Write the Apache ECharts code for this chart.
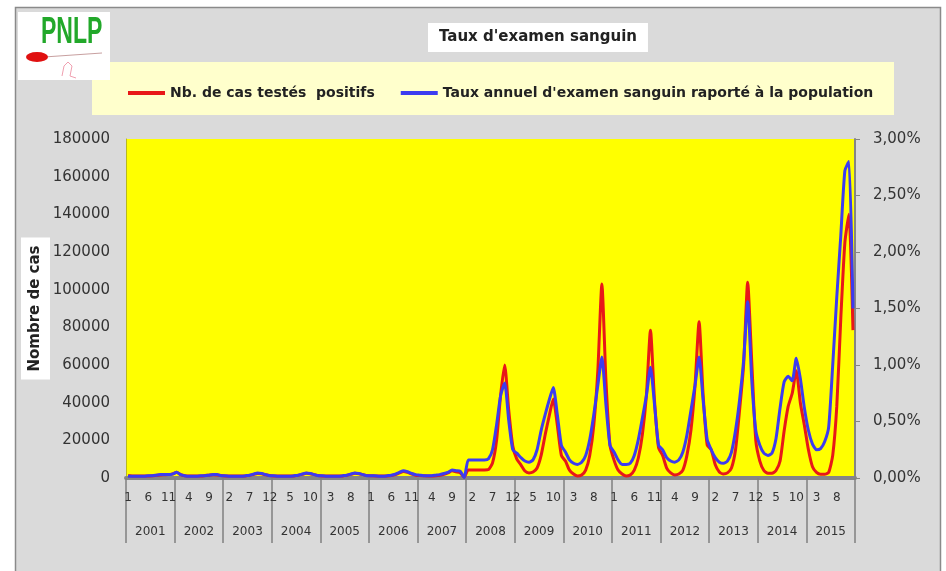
<!DOCTYPE html>
<html>
<head>
<meta charset="utf-8">
<script src="https://cdn.jsdelivr.net/npm/echarts@6/dist/echarts.min.js"></script>
<style>
  html, body { margin: 0; padding: 0; background: #fff; }
  #chart { width: 946px; height: 571px; }
</style>
</head>
<body>
<div id="chart"></div>
<script>
// years on the second level of the x axis
const years = ["2001", "2002", "2003", "2004", "2005", "2006", "2007", "2008",
  "2009", "2010", "2011", "2012", "2013", "2014", "2015"];

// Nb. de cas testés positifs, month by month (left axis)
const cas2001 = [1200, 1100, 1000, 1000, 1000, 1100, 1200, 1400, 1600, 1700, 1800, 2200];
const cas2002 = [3000, 1800, 1200, 1000, 1000, 1000, 1100, 1300, 1500, 1700, 1600, 1300];
const cas2003 = [1100, 1000, 1000, 1000, 1000, 1100, 1400, 1900, 2400, 2200, 1700, 1300];
const cas2004 = [1100, 1000, 1000, 1000, 1000, 1100, 1400, 1900, 2500, 2300, 1800, 1300];
const cas2005 = [1100, 1000, 1000, 1000, 1000, 1100, 1400, 1900, 2500, 2300, 1800, 1300];
const cas2006 = [1200, 1100, 1000, 1000, 1100, 1300, 1800, 2700, 3500, 3000, 2200, 1500];
const cas2007 = [1300, 1200, 1100, 1100, 1200, 1500, 2000, 2700, 3800, 3300, 2800, 500];
const cas2008 = [4300, 4300, 4200, 4300, 4300, 4500, 8000, 20000, 44000, 60000, 36000, 17000];
const cas2009 = [10000, 7000, 3700, 2700, 3200, 5300, 12000, 23000, 33000, 42000, 28000, 12000];
const cas2010 = [9000, 4200, 2100, 1000, 1600, 4200, 12000, 28000, 57000, 103000, 52000, 17500];
const cas2011 = [9500, 4200, 2100, 1000, 1600, 4200, 10600, 23000, 44000, 78500, 41000, 16000];
const cas2012 = [12000, 5300, 2700, 1600, 2100, 4200, 12000, 25500, 49000, 83000, 44000, 17500];
const cas2013 = [15000, 7000, 3200, 2100, 2700, 5300, 15000, 36000, 60000, 104000, 62000, 20000];
const cas2014 = [9000, 4000, 2500, 2500, 4000, 9000, 25000, 38000, 45000, 57000, 40000, 28000];
const cas2015 = [15000, 6000, 3000, 2000, 2000, 3000, 12000, 38000, 85000, 125000, 140000, 78500];

// Taux annuel d'examen sanguin (%), month by month (right axis)
const taux2001 = [0.015, 0.015, 0.015, 0.015, 0.015, 0.02, 0.02, 0.025, 0.03, 0.03, 0.03, 0.035];
const taux2002 = [0.05, 0.03, 0.02, 0.015, 0.015, 0.015, 0.02, 0.02, 0.025, 0.03, 0.03, 0.02];
const taux2003 = [0.02, 0.015, 0.015, 0.015, 0.015, 0.02, 0.025, 0.035, 0.045, 0.04, 0.03, 0.02];
const taux2004 = [0.02, 0.015, 0.015, 0.015, 0.015, 0.02, 0.025, 0.035, 0.045, 0.04, 0.03, 0.02];
const taux2005 = [0.02, 0.015, 0.015, 0.015, 0.015, 0.02, 0.025, 0.035, 0.045, 0.04, 0.03, 0.02];
const taux2006 = [0.02, 0.02, 0.015, 0.015, 0.02, 0.025, 0.035, 0.05, 0.065, 0.055, 0.04, 0.03];
const taux2007 = [0.025, 0.02, 0.02, 0.02, 0.025, 0.03, 0.04, 0.05, 0.07, 0.065, 0.06, 0.005];
const taux2008 = [0.16, 0.16, 0.16, 0.16, 0.16, 0.17, 0.25, 0.47, 0.73, 0.84, 0.51, 0.25];
const taux2009 = [0.22, 0.18, 0.15, 0.14, 0.16, 0.25, 0.42, 0.56, 0.69, 0.80, 0.56, 0.29];
const taux2010 = [0.23, 0.16, 0.13, 0.12, 0.14, 0.20, 0.34, 0.56, 0.82, 1.07, 0.65, 0.29];
const taux2011 = [0.23, 0.16, 0.12, 0.12, 0.13, 0.20, 0.34, 0.53, 0.73, 0.98, 0.65, 0.29];
const taux2012 = [0.25, 0.18, 0.15, 0.14, 0.16, 0.23, 0.38, 0.60, 0.82, 1.07, 0.69, 0.34];
const taux2013 = [0.25, 0.18, 0.14, 0.13, 0.15, 0.23, 0.42, 0.69, 1.04, 1.56, 0.87, 0.42];
const taux2014 = [0.29, 0.22, 0.20, 0.22, 0.35, 0.62, 0.85, 0.90, 0.86, 1.06, 0.88, 0.62];
const taux2015 = [0.42, 0.30, 0.25, 0.26, 0.32, 0.45, 1.00, 1.60, 2.15, 2.72, 2.80, 1.50];

const cases = [].concat(cas2001, cas2002, cas2003, cas2004, cas2005, cas2006, cas2007,
  cas2008, cas2009, cas2010, cas2011, cas2012, cas2013, cas2014, cas2015);
const taux = [].concat(taux2001, taux2002, taux2003, taux2004, taux2005, taux2006, taux2007,
  taux2008, taux2009, taux2010, taux2011, taux2012, taux2013, taux2014, taux2015);

// month numbers 1..12 repeated for every year
const months = [];
years.forEach(() => {
  for (let m = 1; m <= 12; m++) months.push(String(m));
});

const ff = "DejaVu Sans";
const chart = echarts.init(document.getElementById("chart"));

chart.setOption({
  animation: false,
  backgroundColor: "#dadada",
  textStyle: { fontFamily: ff },
  title: {
    text: "Taux d'examen sanguin",
    left: 428,
    top: 23,
    padding: [7, 11],
    backgroundColor: "#ffffff",
    textStyle: { fontFamily: ff, fontSize: 15, fontWeight: "bold", color: "#222" },
  },
  legend: {
    left: 123,
    top: 81,
    itemWidth: 37,
    itemHeight: 4,
    itemGap: 26,
    icon: "rect",
    textStyle: { fontFamily: ff, fontSize: 14, fontWeight: "bold", color: "#222" },
    data: ["Nb. de cas testés  positifs", "Taux annuel d'examen sanguin raporté à la population"],
  },
  grid: {
    left: 126,
    right: 91,
    top: 139,
    bottom: 93,
    show: true,
    backgroundColor: "#ffff00",
    borderWidth: 0,
  },
  xAxis: [
    {
      type: "category",
      data: months,
      position: "bottom",
      axisLine: { show: true, lineStyle: { color: "#858585", width: 4 } },
      axisTick: { show: false },
      axisLabel: { interval: 4, margin: 14, fontSize: 12, color: "#333", fontFamily: ff },
    },
    {
      type: "category",
      data: years,
      position: "bottom",
      offset: 0,
      axisLine: { show: false },
      axisTick: { show: true, interval: 0, length: 65, lineStyle: { color: "#808080", width: 1.5 } },
      axisLabel: { interval: 0, margin: 48, fontSize: 12, color: "#333", fontFamily: ff },
    },
  ],
  yAxis: [
    {
      type: "value",
      min: 0,
      max: 180000,
      interval: 20000,
      name: "Nombre de cas",
      nameLocation: "middle",
      nameRotate: 90,
      nameGap: 76,
      nameMoveOverlap: false,
      nameTextStyle: {
        fontFamily: ff, fontSize: 15, fontWeight: "bold", color: "#222",
        backgroundColor: "#ffffff", padding: [7, 8],
      },
      axisLine: { show: true, lineStyle: { color: "#b8b820", width: 1 } },
      axisTick: { show: false },
      splitLine: { show: false },
      axisLabel: {
        margin: 16, fontSize: 15, color: "#333", fontFamily: ff,
        formatter: (v) => String(v),
      },
    },
    {
      type: "value",
      min: 0,
      max: 3,
      interval: 0.5,
      position: "right",
      axisLine: { show: true, lineStyle: { color: "#858585", width: 2 } },
      axisTick: { show: true, length: 5, lineStyle: { color: "#858585" } },
      splitLine: { show: false },
      axisLabel: {
        margin: 18, fontSize: 15, color: "#333", fontFamily: ff,
        formatter: (v) => v.toFixed(2).replace(".", ",") + "%",
      },
    },
  ],
  graphic: [
    // white margin and frame round the chart
    { type: "rect", shape: { x: 0, y: 0, width: 946, height: 7 }, style: { fill: "#fff" }, silent: true },
    { type: "rect", shape: { x: 0, y: 0, width: 15, height: 571 }, style: { fill: "#fff" }, silent: true },
    { type: "rect", shape: { x: 941, y: 0, width: 5, height: 571 }, style: { fill: "#fff" }, silent: true },
    {
      type: "rect",
      shape: { x: 15.5, y: 7.5, width: 925, height: 570 },
      style: { fill: "none", stroke: "#8a8a8a", lineWidth: 1.5 },
      silent: true,
    },
    // legend box
    {
      type: "rect",
      z: -1,
      shape: { x: 92, y: 62, width: 802, height: 53 },
      style: { fill: "#ffffcc" },
      silent: true,
    },
    // PNLP logo
    { type: "rect", shape: { x: 18, y: 12, width: 92, height: 68 }, style: { fill: "#ffffff" }, silent: true },
    {
      type: "text",
      x: 41,
      y: 15,
      style: { text: "PNLP", fill: "#22a82a", font: 'bold 36px "Liberation Sans"' },
      scaleX: 0.64,
      silent: true,
    },
    {
      type: "line",
      shape: { x1: 44, y1: 57, x2: 102, y2: 53 },
      style: { stroke: "#c8a0a0", lineWidth: 1 },
      silent: true,
    },
    {
      type: "circle",
      shape: { cx: 0, cy: 0, r: 5 },
      x: 37,
      y: 57,
      scaleX: 2.2,
      style: { fill: "#e01010" },
      silent: true,
    },
    {
      type: "polyline",
      shape: { points: [[62, 76], [64, 66], [68, 62], [72, 66], [70, 76], [76, 78]] },
      style: { stroke: "#f0a0b0", lineWidth: 1, fill: "none" },
      silent: true,
    },
  ],
  series: [
    {
      name: "Nb. de cas testés  positifs",
      type: "line",
      xAxisIndex: 0,
      yAxisIndex: 0,
      data: cases,
      showSymbol: false,
      smooth: 0.2,
      color: "#e81818",
      lineStyle: { width: 3, color: "#e81818" },
      z: 2,
    },
    {
      name: "Taux annuel d'examen sanguin raporté à la population",
      type: "line",
      xAxisIndex: 0,
      yAxisIndex: 1,
      data: taux,
      showSymbol: false,
      smooth: 0.2,
      color: "#3c3cf0",
      lineStyle: { width: 3, color: "#3c3cf0" },
      z: 3,
    },
  ],
});
</script>
</body>
</html>
